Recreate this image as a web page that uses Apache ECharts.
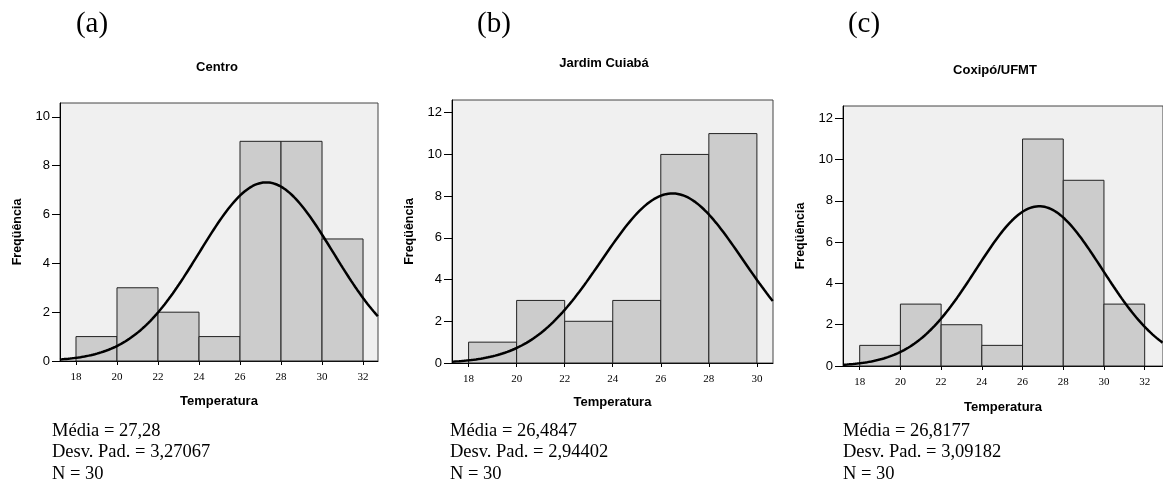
<!DOCTYPE html>
<html>
<head>
<meta charset="utf-8">
<script src="https://cdn.jsdelivr.net/npm/echarts@6/dist/echarts.min.js"></script>
<style>
  html, body { margin: 0; padding: 0; background: #fff; }
  #main { width: 1163px; height: 483px; }
</style>
</head>
<body>
<div id="main"></div>
<script>
// histogram data
const binStart = [18, 20, 22, 24, 26, 28, 30];
const binWidth = 2;
const centroCounts = [1, 3, 2, 1, 9, 9, 5];
const jardimCounts = [1, 3, 2, 3, 10, 11];
const coxipoCounts = [1, 3, 2, 1, 11, 9, 3];

const xTicks = [18, 20, 22, 24, 26, 28, 30, 32];
const yTicksA = [0, 2, 4, 6, 8, 10];
const yTicksB = [0, 2, 4, 6, 8, 10, 12];

const titles = ['Centro', 'Jardim Cuiabá', 'Coxipó/UFMT'];
const letters = ['(a)', '(b)', '(c)'];
const means = [27.28, 26.4847, 26.8177];
const sds = [3.27067, 2.94402, 3.09182];
const nObs = [30, 30, 30];
const meanText = ['27,28', '26,4847', '26,8177'];
const sdText = ['3,27067', '2,94402', '3,09182'];

// panel layout (pixels) and axis extents
const panels = [
  { left: 60, top: 103, width: 318, height: 258, xmin: 17.22, xmax: 32.73, ymax: 10.57, counts: centroCounts, yTicks: yTicksA, titleX: 217, titleY: 67, letterX: 92, statsX: 52, nameGap: 34 },
  { left: 452, top: 100, width: 321, height: 263, xmin: 17.31, xmax: 30.67, ymax: 12.61, counts: jardimCounts, yTicks: yTicksB, titleX: 604, titleY: 63, letterX: 494, statsX: 450, nameGap: 33 },
  { left: 843, top: 106, width: 330, height: 260, xmin: 17.18, xmax: 32.9, ymax: 12.6, counts: coxipoCounts, yTicks: yTicksB, titleX: 995, titleY: 70, letterX: 864, statsX: 843, nameGap: 35 }
];

const sans = 'Liberation Sans, Arial, sans-serif';
const serif = 'Liberation Serif, Times New Roman, serif';

function normalCurve(mean, sd, n, xmin, xmax) {
  const pts = [];
  for (let x = xmin; x <= xmax + 0.001; x += 0.05) {
    const z = (x - mean) / sd;
    pts.push([x, n * binWidth * Math.exp(-0.5 * z * z) / (sd * Math.sqrt(2 * Math.PI))]);
  }
  return pts;
}

const grid = [], xAxis = [], yAxis = [], series = [], graphic = [];

panels.forEach(function (p, i) {
  grid.push({
    left: p.left, top: p.top, width: p.width, height: p.height,
    show: true, backgroundColor: '#f0f0f0', borderColor: '#444', borderWidth: 1
  });
  xAxis.push({
    type: 'value', gridIndex: i, min: p.xmin, max: p.xmax,
    name: 'Temperatura', nameLocation: 'middle', nameGap: p.nameGap,
    nameTextStyle: { fontFamily: sans, fontWeight: 'bold', fontSize: 13, color: '#000' },
    axisLine: { show: true, lineStyle: { color: '#000', width: 1 } },
    axisTick: { show: true, length: 4, customValues: xTicks, lineStyle: { color: '#000' } },
    axisLabel: { customValues: xTicks, fontFamily: serif, fontSize: 11, color: '#000', margin: 11 },
    splitLine: { show: false }
  });
  yAxis.push({
    type: 'value', gridIndex: i, min: 0, max: p.ymax,
    name: 'Freqüência', nameLocation: 'middle', nameGap: 36, nameRotate: 90,
    nameTextStyle: { fontFamily: sans, fontWeight: 'bold', fontSize: 12.5, color: '#000' },
    axisLine: { show: true, lineStyle: { color: '#000', width: 1 } },
    axisTick: { show: true, length: 8, customValues: p.yTicks, lineStyle: { color: '#000' } },
    axisLabel: { customValues: p.yTicks, fontFamily: sans, fontSize: 13, color: '#000', margin: 10 },
    splitLine: { show: false }
  });
  series.push({
    type: 'custom', xAxisIndex: i, yAxisIndex: i,
    data: p.counts.map(function (c, k) { return [binStart[k], binStart[k] + binWidth, c]; }),
    encode: { x: [0, 1], y: 2 },
    renderItem: function (params, api) {
      const a = api.coord([api.value(0), 0]);
      const b = api.coord([api.value(1), api.value(2)]);
      return {
        type: 'rect',
        shape: { x: a[0], y: b[1], width: b[0] - a[0], height: a[1] - b[1] },
        style: { fill: '#cccccc', stroke: '#222', lineWidth: 1 }
      };
    },
    z: 2
  });
  series.push({
    type: 'line', xAxisIndex: i, yAxisIndex: i,
    data: normalCurve(means[i], sds[i], nObs[i], p.xmin, p.xmax),
    showSymbol: false, smooth: false,
    lineStyle: { color: '#000', width: 2.5 },
    z: 3
  });

  graphic.push({
    type: 'text', x: p.letterX, y: 24,
    style: { text: letters[i], font: '29px ' + serif, fill: '#000', align: 'center', verticalAlign: 'middle' }
  });
  graphic.push({
    type: 'text', x: p.titleX, y: p.titleY,
    style: { text: titles[i], font: 'bold 13px ' + sans, fill: '#000', align: 'center', verticalAlign: 'middle' }
  });
  graphic.push({
    type: 'text', x: p.statsX, y: 420,
    style: {
      text: 'Média = ' + meanText[i] + '\nDesv. Pad. = ' + sdText[i] + '\nN = ' + nObs[i],
      font: '18.5px ' + serif, lineHeight: 21.5, fill: '#000'
    }
  });
});

const chart = echarts.init(document.getElementById('main'));
chart.setOption({
  animation: false,
  backgroundColor: '#fff',
  grid: grid,
  xAxis: xAxis,
  yAxis: yAxis,
  series: series,
  graphic: graphic
});
</script>
</body>
</html>
